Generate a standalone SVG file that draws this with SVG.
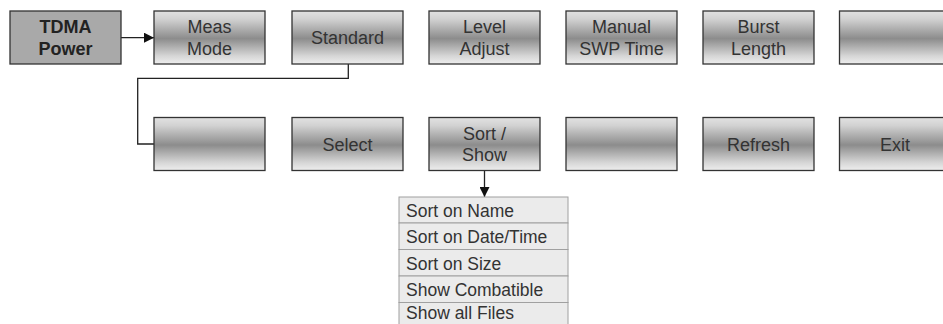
<svg xmlns="http://www.w3.org/2000/svg" width="943" height="324" viewBox="0 0 943 324">
<defs>
<linearGradient id="g" x1="0" y1="0" x2="0" y2="1">
<stop offset="0" stop-color="#e2e2e2"/>
<stop offset="0.15" stop-color="#d2d2d2"/>
<stop offset="0.52" stop-color="#8c8c8c"/>
<stop offset="0.85" stop-color="#d6d6d6"/>
<stop offset="1" stop-color="#eeeeee"/>
</linearGradient>
<marker id="ah" viewBox="0 0 10 10" refX="10" refY="5" markerWidth="10" markerHeight="10" markerUnits="userSpaceOnUse" orient="auto">
<path d="M0,0 L10,5 L0,10 z" fill="#111"/>
</marker>
</defs>
<style>
.btn{fill:url(#g);stroke:#333;stroke-width:1.3}
.t{font-family:"Liberation Sans",Arial,sans-serif;font-size:18px;fill:#333;text-anchor:middle}
.b{font-weight:bold;fill:#222}
.li{fill:#ebebeb;stroke:#a0a0a0;stroke-width:1}
.lt{font-family:"Liberation Sans",Arial,sans-serif;font-size:17.5px;fill:#333}
.c{fill:none;stroke:#222;stroke-width:1.3}
</style>
<rect width="943" height="324" fill="#fff"/>
<g id="connectors">
<line class="c" x1="121" y1="37.7" x2="154" y2="37.7" marker-end="url(#ah)"/>
<polyline class="c" points="348.3,64 348.3,78.3 137.7,78.3 137.7,144 154,144"/>
<line class="c" x1="484.5" y1="170" x2="484.5" y2="197" marker-end="url(#ah)"/>
</g>
<g id="tdma-power"><rect x="10" y="11" width="111" height="53" fill="#a9a9a9" stroke="#333" stroke-width="1.3"/><text class="t b" x="65.5" y="33">TDMA</text><text class="t b" x="65.5" y="55">Power</text></g>
<g id="meas-mode"><rect class="btn" x="154" y="11" width="111" height="53"/><text class="t" x="209.5" y="33">Meas</text><text class="t" x="209.5" y="55">Mode</text></g>
<g id="standard"><rect class="btn" x="292" y="11" width="111" height="53"/><text class="t" x="347.5" y="44">Standard</text></g>
<g id="level-adjust"><rect class="btn" x="429" y="11" width="111" height="53"/><text class="t" x="484.5" y="33">Level</text><text class="t" x="484.5" y="55">Adjust</text></g>
<g id="manual-swp-time"><rect class="btn" x="566" y="11" width="111" height="53"/><text class="t" x="621.5" y="33">Manual</text><text class="t" x="621.5" y="55">SWP Time</text></g>
<g id="burst-length"><rect class="btn" x="703" y="11" width="111" height="53"/><text class="t" x="758.5" y="33">Burst</text><text class="t" x="758.5" y="55">Length</text></g>
<g id="blank-top"><rect class="btn" x="839.5" y="11" width="111" height="53"/></g>
<g id="blank-1"><rect class="btn" x="154" y="117.5" width="111" height="53"/></g>
<g id="select"><rect class="btn" x="292" y="117.5" width="111" height="53"/><text class="t" x="347.5" y="150.5">Select</text></g>
<g id="sort-show"><rect class="btn" x="429" y="117.5" width="111" height="53"/><text class="t" x="484.5" y="140">Sort /</text><text class="t" x="484.5" y="161">Show</text></g>
<g id="blank-2"><rect class="btn" x="566" y="117.5" width="111" height="53"/></g>
<g id="refresh"><rect class="btn" x="703" y="117.5" width="111" height="53"/><text class="t" x="758.5" y="150.5">Refresh</text></g>
<g id="exit"><rect class="btn" x="839.5" y="117.5" width="111" height="53"/><text class="t" x="895" y="150.5">Exit</text></g>
<g id="sort-list">
<rect class="li" x="399" y="197" width="169" height="26"/><text class="lt" x="406" y="216.7">Sort on Name</text>
<rect class="li" x="399" y="223" width="169" height="26.5"/><text class="lt" x="406" y="243">Sort on Date/Time</text>
<rect class="li" x="399" y="249.5" width="169" height="26.5"/><text class="lt" x="406" y="269.5">Sort on Size</text>
<rect class="li" x="399" y="276" width="169" height="26.5"/><text class="lt" x="406" y="296">Show Combatible</text>
<rect class="li" x="399" y="302.5" width="169" height="26.5"/><text class="lt" x="406" y="319">Show all Files</text>
</g>
</svg>
